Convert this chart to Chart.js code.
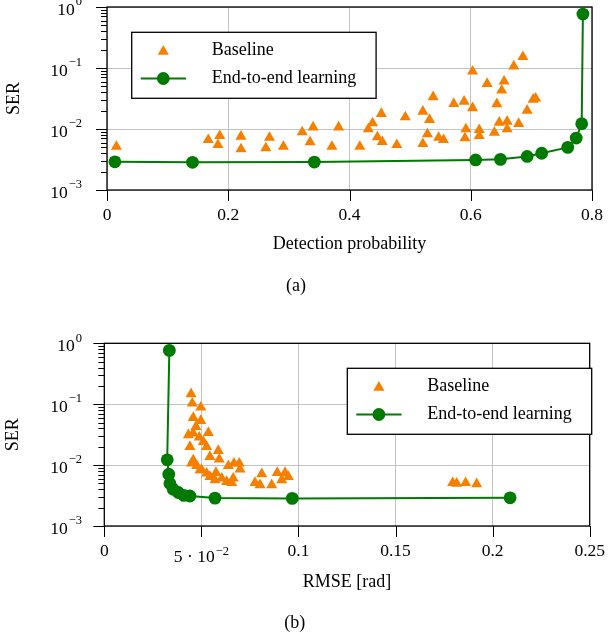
<!DOCTYPE html>
<html>
<head>
<meta charset="utf-8">
<script src="https://cdn.jsdelivr.net/npm/chart.js@4.4.1/dist/chart.umd.min.js"></script>
<style>
    html, body { margin: 0; padding: 0; background: #fff; }
    .panel { position: absolute; left: 0; width: 608px; height: 318px; }
</style>
</head>
<body>
<div class="panel" style="top:0"><canvas id="serDetection" width="608" height="318"></canvas></div>
<div class="panel" style="top:318px"><canvas id="serRmse" width="608" height="318"></canvas></div>
<script>
// end-to-end learning: same 11 systems in both panels
const e2eSer = [0.0029, 0.00284, 0.00287, 0.00311, 0.00318, 0.00355, 0.004, 0.005, 0.0071, 0.0122, 0.765];
const e2eDetection = [0.013, 0.141, 0.342, 0.608, 0.649, 0.693, 0.717, 0.760, 0.774, 0.783, 0.785];
const e2eRmse = [0.209, 0.0968, 0.057, 0.0441, 0.041, 0.0381, 0.0355, 0.0338, 0.0332, 0.0324, 0.0335];

// baseline, panel (a)
const baselineDetection = [0.0155, 0.167, 0.186, 0.183, 0.221, 0.221, 0.268, 0.262, 0.291, 0.322,
    0.340, 0.335, 0.382, 0.371, 0.417, 0.431, 0.438, 0.4525, 0.446, 0.454,
    0.478, 0.492, 0.521, 0.532, 0.5285, 0.521, 0.538, 0.547, 0.555, 0.572,
    0.589, 0.603, 0.603, 0.592, 0.5905, 0.614, 0.614, 0.639, 0.627, 0.655,
    0.651, 0.643, 0.671, 0.686, 0.647, 0.660, 0.660, 0.679, 0.693, 0.703, 0.707];
const baselineSerA = [0.00515, 0.00664, 0.00773, 0.0055, 0.00753, 0.00467, 0.00724, 0.00486, 0.00515, 0.0089,
    0.0107, 0.0061, 0.0107, 0.00515, 0.00515, 0.00996, 0.0125, 0.0178, 0.00736, 0.00616,
    0.0055, 0.0157, 0.0194, 0.0142, 0.00824, 0.0057, 0.0335, 0.00724, 0.00664, 0.026,
    0.0283, 0.0221, 0.0883, 0.00996, 0.00708, 0.0097, 0.00773, 0.00877, 0.0553, 0.0604,
    0.043, 0.0257, 0.107, 0.152, 0.0128, 0.0133, 0.00996, 0.0122, 0.0201, 0.0305, 0.0318];

// baseline, panel (b)
const baselineRmse = [0.0447, 0.0453, 0.0497, 0.0458, 0.0497, 0.0472, 0.0433, 0.0458, 0.0489, 0.0536,
    0.0441, 0.051, 0.0527, 0.0544, 0.0587, 0.0592, 0.0458, 0.0476, 0.0502, 0.0527,
    0.0544, 0.057, 0.0575, 0.0605, 0.063, 0.0639, 0.0668, 0.0695, 0.0699, 0.0664,
    0.0656, 0.0811, 0.0776, 0.0802, 0.0862, 0.0891, 0.0914, 0.0931, 0.0948, 0.045,
    0.0493, 0.1794, 0.1815, 0.1861, 0.1918];
const baselineSerB = [0.147, 0.1035, 0.089, 0.06, 0.0535, 0.0427, 0.0312, 0.0333, 0.0286, 0.034,
    0.02, 0.0242, 0.02, 0.0137, 0.0172, 0.0124, 0.0121, 0.0097, 0.0083, 0.00733,
    0.00645, 0.00569, 0.0075, 0.00607, 0.00533, 0.0097, 0.0107, 0.0107, 0.0085, 0.00607,
    0.00514, 0.00715, 0.00514, 0.00471, 0.00471, 0.0075, 0.00569, 0.0075, 0.00645, 0.0107,
    0.0083, 0.0051, 0.005, 0.0051, 0.0049];

// tick labels as [base, exponent]
const serTickLabels = [['10', '\u22123'], ['10', '\u22122'], ['10', '\u22121'], ['10', '0']];
const detectionTickLabels = [['0', ''], ['0.2', ''], ['0.4', ''], ['0.6', ''], ['0.8', '']];
const rmseTickLabels = [['0', ''], ['5 \u00b7 10', '\u22122'], ['0.1', ''], ['0.15', ''], ['0.2', ''], ['0.25', '']];

const seriesNames = ['Baseline', 'End-to-end learning'];

const FONT = '"Liberation Serif", "Times New Roman", serif';
const ORANGE = '#f58000';
const GREEN = '#007a00';
const GRID = '#bdbdbd';
const TRI_R = 6.4;
const DOT_R = 6.4;

function isDecade(v) {
    const e = Math.log10(v);
    return Math.abs(e - Math.round(e)) < 1e-6;
}

function labelWidth(ctx, base, exp) {
    ctx.font = '17.5px ' + FONT;
    const wb = ctx.measureText(base).width;
    ctx.font = '12.5px ' + FONT;
    const we = exp ? ctx.measureText(exp).width + 1 : 0;
    return [wb, we];
}

function drawTickLabel(ctx, base, exp, left, yBase, yExp) {
    const [wb] = labelWidth(ctx, base, exp);
    ctx.textAlign = 'left';
    ctx.textBaseline = 'middle';
    ctx.font = '17.5px ' + FONT;
    ctx.fillText(base, left, yBase);
    if (exp) {
        ctx.font = '12.5px ' + FONT;
        ctx.fillText(exp, left + wb + 1, yExp);
    }
}

// frame, outer tick marks and tick labels (with superscripts)
const axesFrame = {
    id: 'axesFrame',
    beforeDatasetsDraw(chart) {
        const {ctx, chartArea: a} = chart;
        ctx.save();
        ctx.strokeStyle = '#000';
        ctx.lineWidth = 1.3;
        ctx.strokeRect(a.left, a.top, a.right - a.left, a.bottom - a.top);
        ctx.restore();
    },
    afterDraw(chart, args, opts) {
        const {ctx, chartArea: a, scales: {x, y}} = chart;
        ctx.save();
        ctx.strokeStyle = '#000';
        ctx.fillStyle = '#000';
        ctx.lineWidth = 1;
        ctx.beginPath();
        for (let d = -3; d <= 0; d++) {
            for (let k = 1; k <= 9; k++) {
                if (d === 0 && k > 1) break;
                const py = Math.round(y.getPixelForValue(k * Math.pow(10, d))) + 0.5;
                const len = k === 1 ? 11 : 6;
                ctx.moveTo(a.left - len, py);
                ctx.lineTo(a.left, py);
            }
        }
        x.ticks.forEach(t => {
            const px = Math.round(x.getPixelForValue(t.value)) + 0.5;
            ctx.moveTo(px, a.bottom);
            ctx.lineTo(px, a.bottom + 11);
        });
        ctx.stroke();

        serTickLabels.forEach((lab, i) => {
            const py = y.getPixelForValue(Math.pow(10, i - 3));
            const [wb, we] = labelWidth(ctx, lab[0], lab[1]);
            drawTickLabel(ctx, lab[0], lab[1], opts.yLabelRight - wb - we, py + 3, py - 5);
        });
        x.ticks.forEach((t, i) => {
            const lab = opts.xLabels[i];
            if (!lab) return;
            const px = x.getPixelForValue(t.value);
            const [wb, we] = labelWidth(ctx, lab[0], lab[1]);
            const yc = a.bottom + 25.5;
            drawTickLabel(ctx, lab[0], lab[1], px - (wb + we) / 2, lab[1] ? yc + 6 : yc, yc);
        });
        ctx.restore();
    }
};

function drawMarker(ctx, style, cx, cy, r, color) {
    ctx.fillStyle = color;
    ctx.beginPath();
    if (style === 'triangle') {
        for (let i = 0; i < 3; i++) {
            const ang = i * 2 * Math.PI / 3;
            const px = cx + Math.sin(ang) * r, py = cy - Math.cos(ang) * r;
            if (i === 0) ctx.moveTo(px, py); else ctx.lineTo(px, py);
        }
        ctx.closePath();
    } else {
        ctx.arc(cx, cy, r, 0, 2 * Math.PI);
    }
    ctx.fill();
}

// boxed legend inside the plot area
const insideLegend = {
    id: 'insideLegend',
    afterDatasetsDraw(chart, args, opts) {
        const {ctx} = chart;
        const bx = opts.x, by = opts.y, w = 244.4, h = 66;
        ctx.save();
        ctx.fillStyle = '#fff';
        ctx.fillRect(bx, by, w, h);
        ctx.strokeStyle = '#000';
        ctx.lineWidth = 1.3;
        ctx.strokeRect(bx, by, w, h);

        const r1 = by + 17.7, r2 = by + 46.2, sx = bx + 31.6;
        drawMarker(ctx, 'triangle', sx, r1 + 1.5, TRI_R, ORANGE);
        ctx.strokeStyle = GREEN;
        ctx.lineWidth = 2;
        ctx.beginPath();
        ctx.moveTo(bx + 9, r2);
        ctx.lineTo(bx + 54.3, r2);
        ctx.stroke();
        drawMarker(ctx, 'circle', sx, r2, DOT_R, GREEN);

        ctx.fillStyle = '#000';
        ctx.font = '18px ' + FONT;
        ctx.textAlign = 'left';
        ctx.textBaseline = 'middle';
        ctx.fillText(seriesNames[0], bx + 80, r1);
        ctx.fillText(seriesNames[1], bx + 80, r2);
        ctx.restore();
    }
};

function makePanel(canvasId, cfg) {
    const baseline = cfg.baselineX.map((v, i) => ({x: v, y: cfg.baselineY[i]}));
    const learned = cfg.e2eX.map((v, i) => ({x: v, y: e2eSer[i]}));

    return new Chart(document.getElementById(canvasId), {
        type: 'scatter',
        data: {
            datasets: [
                {
                    label: seriesNames[0],
                    data: baseline,
                    pointStyle: 'triangle',
                    pointRadius: TRI_R,
                    backgroundColor: ORANGE,
                    borderColor: ORANGE,
                    borderWidth: 0,
                    showLine: false,
                    order: 1,
                    clip: false
                },
                {
                    label: seriesNames[1],
                    data: learned,
                    pointStyle: 'circle',
                    pointRadius: DOT_R,
                    backgroundColor: GREEN,
                    borderColor: GREEN,
                    borderWidth: 2,
                    pointBorderWidth: 0,
                    showLine: true,
                    tension: 0,
                    order: 0,
                    clip: false
                }
            ]
        },
        options: {
            responsive: false,
            animation: false,
            events: [],
            layout: {
                padding: {left: 0, top: cfg.top, right: cfg.right, bottom: 0}
            },
            plugins: {
                legend: {display: false},
                tooltip: {enabled: false},
                title: {
                    display: true,
                    position: 'bottom',
                    text: cfg.caption,
                    color: '#000',
                    font: {family: FONT, size: 18, weight: 'normal'},
                    padding: {top: 0, bottom: cfg.captionPad}
                },
                axesFrame: {yLabelRight: 82, xLabels: cfg.xLabels},
                insideLegend: {x: cfg.legendX, y: cfg.legendY}
            },
            scales: {
                x: {
                    type: 'linear',
                    min: 0,
                    max: cfg.xMax,
                    ticks: {stepSize: cfg.xStep, display: false},
                    grid: {color: GRID, lineWidth: 0.9, drawTicks: false},
                    border: {display: false},
                    title: {
                        display: true,
                        text: cfg.xTitle,
                        color: '#000',
                        font: {family: FONT, size: 18},
                        padding: {top: 0, bottom: cfg.xTitlePad}
                    },
                    afterFit(scale) { scale.height = cfg.xHeight; }
                },
                y: {
                    type: 'logarithmic',
                    min: 0.001,
                    max: 1,
                    ticks: {display: false},
                    grid: {
                        color: ctx => (ctx.tick && isDecade(ctx.tick.value)) ? GRID : 'rgba(0,0,0,0)',
                        lineWidth: 0.9,
                        drawTicks: false
                    },
                    border: {display: false},
                    title: {
                        display: true,
                        text: 'SER',
                        color: '#000',
                        font: {family: FONT, size: 18},
                        padding: {top: cfg.yTitlePad, bottom: 0}
                    },
                    afterFit(scale) { scale.width = cfg.yWidth; }
                }
            }
        },
        plugins: [axesFrame, insideLegend]
    });
}

makePanel('serDetection', {
    baselineX: baselineDetection, baselineY: baselineSerA, e2eX: e2eDetection,
    xMax: 0.8, xStep: 0.2, xLabels: detectionTickLabels, xTitle: 'Detection probability',
    caption: '(a)', top: 7, right: 16, yWidth: 107, xHeight: 85.4,
    captionPad: 21, xTitlePad: 20.6, yTitlePad: 3.7,
    legendX: 131.7, legendY: 32.3
});

makePanel('serRmse', {
    baselineX: baselineRmse, baselineY: baselineSerB, e2eX: e2eRmse,
    xMax: 0.25, xStep: 0.05, xLabels: rmseTickLabels, xTitle: 'RMSE [rad]',
    caption: '(b)', top: 25.3, right: 18.3, yWidth: 104.3, xHeight: 86.2,
    captionPad: 2.2, xTitlePad: 18.7, yTitlePad: 2.5,
    legendX: 347.3, legendY: 50.3
});
</script>
</body>
</html>
